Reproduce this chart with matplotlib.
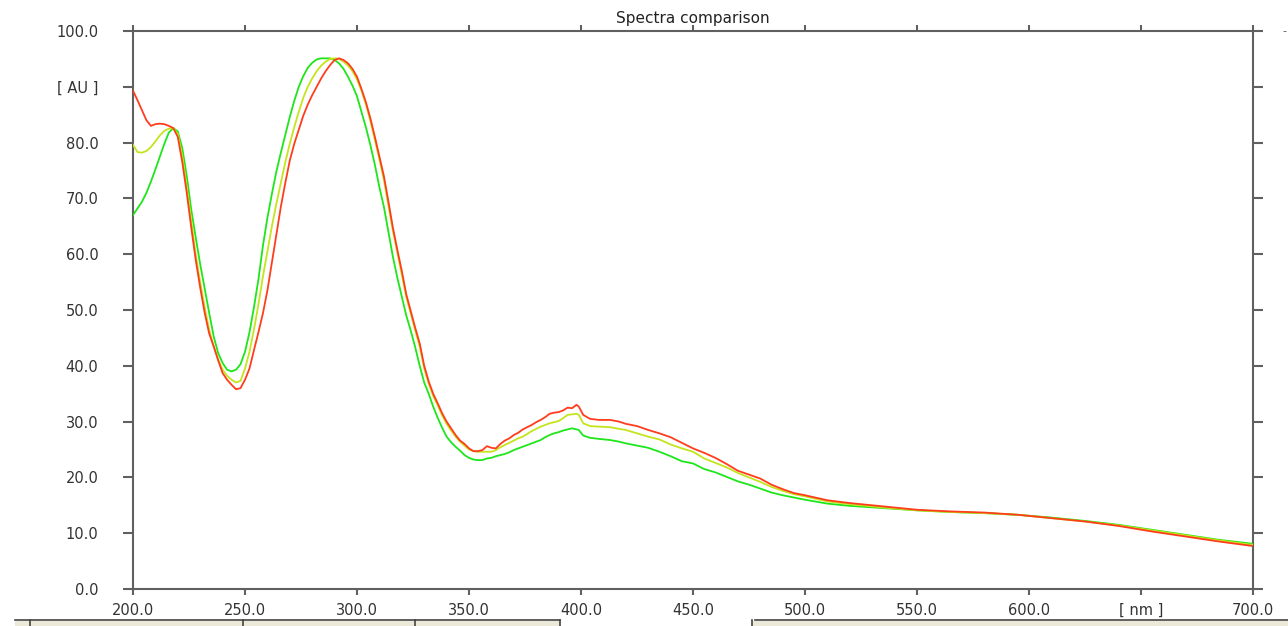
import matplotlib
matplotlib.use("Agg")
import matplotlib.pyplot as plt
from matplotlib.lines import Line2D
from matplotlib.patches import Rectangle

# ---------------- data ----------------
wavelength = [200, 202, 204, 206, 208, 210, 212, 214, 216, 218,
              220, 222, 224, 226, 228, 230, 232, 234, 236, 238,
              240, 242, 244, 246, 248, 250, 252, 254, 256, 258,
              260, 262, 264, 266, 268, 270, 272, 274, 276, 278,
              280, 282, 284, 286, 288, 290, 292, 294, 296, 298,
              300, 302, 304, 306, 308, 310, 312, 314, 316, 318,
              320, 322, 324, 326, 328, 330, 332, 334, 336, 338,
              340, 342, 344, 346, 348, 350, 352, 354, 356, 358,
              360, 362, 364, 366, 368, 370, 372, 374, 376, 378,
              380, 382, 384, 386, 388, 390, 392, 394, 396, 398,
              399, 401, 404, 408, 413, 417, 420, 425, 430, 435,
              440, 445, 450, 455, 460, 465, 470, 475, 480, 485,
              490, 495, 500, 510, 520, 535, 550, 565, 580, 595,
              610, 625, 640, 655, 670, 685, 700]

red_au = [89.3, 87.6, 85.8, 84.0, 83.0, 83.3, 83.4, 83.3, 83.0, 82.6,
          81.0, 76.5, 71.0, 64.8, 59.0, 54.0, 49.5, 45.8, 43.5, 41.0,
          38.7, 37.5, 36.6, 35.8, 36.0, 37.5, 39.5, 42.8, 46.0, 49.4,
          53.5, 58.5, 63.5, 68.5, 72.8, 76.8, 79.8, 82.3, 84.8, 86.8,
          88.5, 90.0, 91.5, 92.8, 93.9, 94.8, 95.1, 94.8, 94.2, 93.2,
          91.8, 89.6, 87.2, 84.3, 81.0, 77.5, 74.0, 69.5, 64.8, 60.8,
          57.0, 52.8, 49.8, 46.8, 44.0, 40.0, 37.2, 35.0, 33.3, 31.5,
          30.0, 28.8, 27.6, 26.6, 26.0, 25.2, 24.7, 24.7, 24.9, 25.6,
          25.3, 25.2, 26.0, 26.6, 27.0, 27.6, 28.0, 28.6, 29.0, 29.4,
          29.9, 30.3, 30.8, 31.4, 31.6, 31.7, 32.0, 32.5, 32.4, 33.0,
          32.7, 31.2, 30.5, 30.3, 30.3, 30.0, 29.6, 29.2, 28.5, 27.9,
          27.2, 26.2, 25.2, 24.4, 23.5, 22.4, 21.2, 20.5, 19.8, 18.7,
          17.9, 17.2, 16.8, 15.9, 15.4, 14.8, 14.2, 13.9, 13.7, 13.3,
          12.7, 12.1, 11.3, 10.3, 9.4, 8.5, 7.7]

yellow_au = [79.6, 78.3, 78.2, 78.5, 79.2, 80.2, 81.3, 82.1, 82.5, 82.6,
             81.5, 77.5, 72.0, 66.0, 60.0, 55.0, 50.5, 46.5, 43.5, 41.2,
             39.3, 38.2, 37.5, 37.0, 37.3, 39.5, 42.5, 46.5, 51.0, 56.0,
             60.5, 65.0, 69.0, 72.8, 76.5, 79.8, 82.8, 85.5, 88.0, 90.0,
             91.5, 92.8, 93.8, 94.5, 95.0, 95.1, 95.0, 94.5, 93.8, 92.8,
             91.3, 89.3, 86.8, 83.8, 80.4, 77.0, 73.3, 68.8, 64.2, 60.2,
             56.3, 52.3, 49.3, 46.3, 43.4, 39.5, 36.8, 34.6, 32.9, 31.1,
             29.6, 28.4, 27.3, 26.4, 25.7, 25.0, 24.7, 24.6, 24.6, 24.6,
             24.6, 24.9, 25.4, 25.8, 26.2, 26.6, 27.0, 27.3, 27.8, 28.3,
             28.7, 29.1, 29.4, 29.7, 29.9, 30.1, 30.6, 31.2, 31.3, 31.4,
             31.2, 29.7, 29.2, 29.1, 29.0, 28.7, 28.5, 27.9, 27.3, 26.8,
             25.9, 25.2, 24.6, 23.4, 22.6, 21.8, 20.8, 20.0, 19.2, 18.3,
             17.6, 17.0, 16.6, 15.7, 15.2, 14.6, 14.1, 13.8, 13.6, 13.3,
             12.7, 12.1, 11.4, 10.5, 9.6, 8.7, 7.9]

green_au = [67.0, 68.2, 69.4, 71.0, 73.0, 75.2, 77.5, 79.8, 81.8, 82.6,
            82.0, 79.0, 74.0, 68.0, 63.0, 58.2, 53.8, 49.5, 45.3, 42.3,
            40.5, 39.3, 39.0, 39.3, 40.3, 42.5, 46.0, 50.5, 55.5, 61.5,
            66.5, 70.8, 74.8, 78.2, 81.4, 84.6, 87.5, 90.0, 91.9, 93.4,
            94.3, 94.9, 95.1, 95.1, 95.1, 94.8, 94.2, 93.2, 91.8, 90.2,
            88.3, 85.5, 82.7, 79.5, 76.0, 72.0, 68.5, 64.0, 59.6, 55.8,
            52.4, 49.0, 46.3, 43.3, 40.0, 37.0, 35.0, 32.7, 30.7, 28.9,
            27.3, 26.3, 25.5, 24.8, 24.0, 23.5, 23.2, 23.1, 23.1, 23.4,
            23.5, 23.8, 24.0, 24.2, 24.5, 24.9, 25.2, 25.5, 25.8, 26.1,
            26.4, 26.7, 27.2, 27.6, 27.9, 28.1, 28.4, 28.6, 28.8, 28.6,
            28.5, 27.5, 27.1, 26.9, 26.7, 26.4, 26.1, 25.7, 25.3, 24.6,
            23.8, 22.9, 22.5, 21.5, 20.9, 20.1, 19.3, 18.7, 18.0, 17.3,
            16.8, 16.4, 16.0, 15.3, 14.9, 14.5, 14.1, 13.8, 13.6, 13.3,
            12.8, 12.2, 11.5, 10.6, 9.7, 8.8, 8.1]

x_ticks = [200, 250, 300, 350, 400, 450, 500, 550, 600, 650, 700]
x_tick_labels = ["200.0", "250.0", "300.0", "350.0", "400.0", "450.0",
                 "500.0", "550.0", "600.0", "[ nm ]", "700.0"]
y_ticks = [0, 10, 20, 30, 40, 50, 60, 70, 80, 90, 100]
y_tick_labels = ["0.0", "10.0", "20.0", "30.0", "40.0", "50.0", "60.0",
                 "70.0", "80.0", "[ AU ]", "100.0"]
title_text = "Spectra comparison"

# ---------------- figure ----------------
W, H = 1288, 626
fig = plt.figure(figsize=(W / 100, H / 100), dpi=100)
fig.patch.set_facecolor("white")

left, right, top, bottom = 133, 1253, 31, 589
ax = fig.add_axes([left / W, (H - bottom) / H, (right - left) / W, (bottom - top) / H])

ax.plot(wavelength, green_au, color="#1ee61a", lw=1.3, zorder=3)
ax.plot(wavelength, yellow_au, color="#c4e41c", lw=1.3, zorder=4)
ax.plot(wavelength, red_au, color="#ff3d1c", lw=1.3, zorder=5)

ax.set_xlim(200, 700)
ax.set_ylim(0, 100)

spine_col = "#606060"
for s in ax.spines.values():
    s.set_color(spine_col)
    s.set_linewidth(1.5)

ax.set_xticks(x_ticks)
ax.set_xticklabels(x_tick_labels)
ax.set_yticks(y_ticks)
ax.set_yticklabels(y_tick_labels)

ax.tick_params(axis="x", which="both", top=True, bottom=True, direction="out",
               length=4.5, width=1.5, color=spine_col, pad=5.5,
               labelsize=10.5, labelcolor="#333333")
ax.tick_params(axis="y", which="both", left=True, right=True, direction="out",
               length=7, width=1.5, color=spine_col, pad=18,
               labelsize=10.5, labelcolor="#333333")

ax.set_title(title_text, fontsize=11, color="#222222", pad=6)

# small cut-off mark at the top right edge of the screenshot
fig.text(1284 / W, (H - 31) / H, "-", fontsize=8, color="#555555",
         ha="center", va="center")

# GUI strip at the bottom edge of the screenshot
strip_col = "#ece9d8"
line_col = "#444444"
fig.add_artist(Rectangle((15 / W, 0), (560 - 15) / W, (H - 621) / H,
                         transform=fig.transFigure, facecolor=strip_col, edgecolor="none"))
fig.add_artist(Rectangle((752 / W, 0), (W - 752) / W, (H - 621) / H,
                         transform=fig.transFigure, facecolor=strip_col, edgecolor="none"))
fig.add_artist(Line2D([15 / W, 560 / W], [(H - 620) / H, (H - 620) / H],
                      transform=fig.transFigure, color=line_col, lw=1.2))
fig.add_artist(Line2D([755 / W, W / W], [(H - 620) / H, (H - 620) / H],
                      transform=fig.transFigure, color=line_col, lw=1.2))
for xp in [30, 243, 415, 560, 752]:
    fig.add_artist(Line2D([xp / W, xp / W], [0, (H - 620) / H],
                          transform=fig.transFigure, color=line_col, lw=1.2))

fig.savefig("out.png", dpi=100, facecolor="white")
